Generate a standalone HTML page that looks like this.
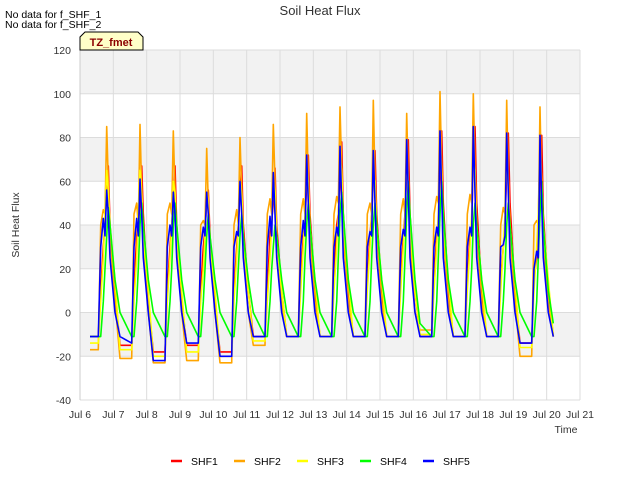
<!DOCTYPE html>
<html><head><meta charset="utf-8"><style>
body{margin:0;background:#fff;}
svg{font-family:"Liberation Sans",sans-serif;}
</style></head><body>
<svg id="chart" width="640" height="480">
<rect x="0" y="0" width="640" height="480" fill="#fff"/>
<g id="bands"></g>
<g id="grid"></g>
<g id="series"></g>
<g id="axes"></g>
<text x="320" y="15" text-anchor="middle" font-size="13" fill="#333">Soil Heat Flux</text>
<text x="5" y="18" font-size="10.5" fill="#000">No data for f_SHF_1</text>
<text x="5" y="28" font-size="10.5" fill="#000">No data for f_SHF_2</text>
<g>
<path d="M80,50 L80,37 L85,32 L138,32 L143,37 L143,50 Z" fill="#ffffc8" stroke="#000" stroke-width="1"/>
<text x="111" y="46" text-anchor="middle" font-size="11" font-weight="bold" fill="#8b0000">TZ_fmet</text>
</g>
<text transform="translate(19,225) rotate(-90)" text-anchor="middle" font-size="10.5" fill="#333">Soil Heat Flux</text>
<text x="566" y="433" text-anchor="middle" font-size="10.5" fill="#333">Time</text>
<g id="legend"></g>
</svg>
<script>
const yTicks = [-40,-20,0,20,40,60,80,100,120];
const xTickLabels = ["Jul 6","Jul 7","Jul 8","Jul 9","Jul 10","Jul 11","Jul 12","Jul 13","Jul 14","Jul 15","Jul 16","Jul 17","Jul 18","Jul 19","Jul 20","Jul 21"];
const seriesNames = ["SHF1","SHF2","SHF3","SHF4","SHF5"];
const seriesColors = ["#ff0000","#ffa500","#ffff00","#00ff00","#0000ff"];
const startDay = 6.3;
const cycleOffsets = [0.55,0.62,0.7,0.75,0.8,0.85,0.9,1.05,1.2];
const startValues = [-11,-17,-14,-11,-11];
const shf1 = [
-11,10,30,40,55,67,40,10,-15, -15,10,35,40,50,67,45,5,-18, -18,10,30,40,50,67,40,5,-15,
-15,10,30,38,50,56,35,5,-18, -18,10,30,40,55,67,40,10,-11, -11,10,35,42,50,66,40,10,-11,
-11,15,35,40,60,72,45,10,-11, -11,15,40,45,60,78,45,10,-11, -11,15,35,45,60,74,45,10,-11,
-11,15,35,45,65,79,45,10,-11, -11,15,35,40,65,83,50,10,-11, -11,15,35,40,70,85,50,10,-11,
-11,15,30,40,65,82,50,10,-14, -14,15,25,30,65,81,45,10,-11];
const shf2 = [
-17,40,47,45,85,60,35,5,-21, -21,45,50,40,86,55,30,0,-23, -23,45,50,45,83,55,30,0,-22,
-22,40,42,40,75,50,30,0,-23, -23,40,47,40,80,55,30,0,-15, -15,45,52,45,86,60,35,5,-11,
-11,45,52,45,91,60,35,5,-11, -11,45,53,50,94,65,35,5,-11, -11,45,50,45,97,60,35,5,-11,
-11,45,52,45,91,60,35,0,-8, -8,45,53,50,101,65,35,5,-11, -11,45,54,50,100,65,35,5,-11,
-11,40,48,45,97,60,35,5,-20, -20,40,42,40,94,55,30,5,-11];
const shf3 = [
-14,5,25,45,65,55,40,15,-17, -17,5,25,45,65,55,35,10,-20, -20,5,25,40,60,55,35,10,-18,
-18,5,20,35,55,50,30,10,-20, -20,5,25,40,60,55,35,10,-13, -13,5,25,40,60,55,35,10,-11,
-11,10,30,45,65,60,40,15,-11, -11,10,30,45,70,65,40,15,-11, -11,10,30,45,62,60,40,15,-11,
-11,10,30,45,70,60,40,10,-10, -10,10,30,45,75,65,40,15,-11, -11,10,30,45,70,65,40,15,-11,
-11,10,30,45,70,60,40,15,-16, -16,10,30,45,75,60,40,15,-11];
const shf4 = [
-11,-11,5,20,35,48,40,15,0, -11,-11,5,20,40,50,40,15,0, -11,-11,5,20,40,50,40,15,0,
-11,-11,5,20,35,45,35,15,0, -11,-11,5,20,35,45,35,15,0, -11,-11,5,20,30,40,35,15,0,
-11,-11,5,25,40,50,40,15,0, -11,-11,5,25,45,55,45,15,0, -11,-11,5,25,40,50,40,15,0,
-11,-11,5,25,45,60,45,15,-5, -11,-11,5,25,45,60,45,15,0, -11,-11,5,20,40,50,40,15,0,
-11,-11,5,20,40,50,40,15,0, -11,-11,5,25,45,60,40,10,-5];
const shf5 = [
-11,30,43,35,56,45,25,0,-11, -14,30,43,35,61,45,25,0,-22, -22,30,40,35,55,45,25,0,-14,
-14,30,39,35,55,45,25,0,-20, -20,30,37,35,60,45,25,0,-11, -11,30,44,35,64,45,25,0,-11,
-11,30,42,35,72,50,25,0,-11, -11,30,39,35,76,50,25,0,-11, -11,30,37,35,74,50,25,0,-11,
-11,30,38,35,79,55,25,0,-11, -11,30,39,35,83,55,25,0,-11, -11,30,39,35,85,55,25,0,-11,
-11,30,31,35,82,55,25,0,-14, -14,20,28,25,81,50,25,0,-11];
const allSeries = [shf1,shf2,shf3,shf4,shf5];

const X0=80, X1=580, Y0=50, Y1=400, D0=6, D1=21, V0=-40, V1=120;
const xScale = d => X0 + (d-D0)/(D1-D0)*(X1-X0);
const yScale = v => Y1 - (v-V0)/(V1-V0)*(Y1-Y0);
const NS="http://www.w3.org/2000/svg";
function mk(tag, attrs, parent){const e=document.createElementNS(NS,tag);for(const k in attrs)e.setAttribute(k,attrs[k]);parent.appendChild(e);return e;}

const bands=document.getElementById('bands');
const bg=mk('rect',{x:X0,y:Y0,width:X1-X0,height:Y1-Y0,fill:'#ffffff'},bands);


for(let i=0;i<yTicks.length-1;i++){
  if(i%2===1){
    const b=mk('rect',{x:X0,y:yScale(yTicks[i+1]),width:X1-X0,height:yScale(yTicks[i])-yScale(yTicks[i+1]),fill:'#f2f2f2'},bands);
    
    
  }
}
const grid=document.getElementById('grid');
const axes=document.getElementById('axes');
yTicks.forEach(v=>{
  const l=mk('line',{x1:X0,x2:X1,y1:yScale(v),y2:yScale(v),stroke:'#dcdcdc','stroke-width':1},grid);
  
  
  const t=mk('text',{x:X0-9,y:yScale(v)+4,'text-anchor':'end','font-size':'10.5',fill:'#333'},axes);
  t.textContent=v;
  
  
});
xTickLabels.forEach((lab,i)=>{
  const x=xScale(D0+i);
  const l=mk('line',{x1:x,x2:x,y1:Y0,y2:Y1,stroke:'#dcdcdc','stroke-width':1},grid);
  
  
  const t=mk('text',{x:x,y:Y1+18,'text-anchor':'middle','font-size':'10.5',fill:'#333'},axes);
  t.textContent=lab;
  
  
});
const ax=mk('line',{x1:X0,x2:X0,y1:Y0,y2:Y1,stroke:'#ccc','stroke-width':1},axes);



const sg=document.getElementById('series');
allSeries.forEach((vals,si)=>{
  const pts=[[xScale(startDay),yScale(startValues[si])]];
  const n=cycleOffsets.length;
  for(let i=0;i<vals.length;i++){
    const k=Math.floor(i/n), j=i%n;
    pts.push([xScale(D0+k+cycleOffsets[j]),yScale(vals[i])]);
  }
  const p=mk('polyline',{points:pts.map(p=>p[0].toFixed(1)+','+p[1].toFixed(1)).join(' '),fill:'none',stroke:seriesColors[si],'stroke-width':1.6,'stroke-linejoin':'round'},sg);
  
  
});

const lg=document.getElementById('legend');
seriesNames.forEach((nm,i)=>{
  const x=171+i*63;
  const g=mk('g',{},lg);
  
  
  mk('line',{x1:x,x2:x+11,y1:461,y2:461,stroke:seriesColors[i],'stroke-width':2.5},g);
  const t=mk('text',{x:x+20,y:465,'font-size':'10.5',fill:'#000'},g);
  t.textContent=nm;
});
</script>
</body></html>
